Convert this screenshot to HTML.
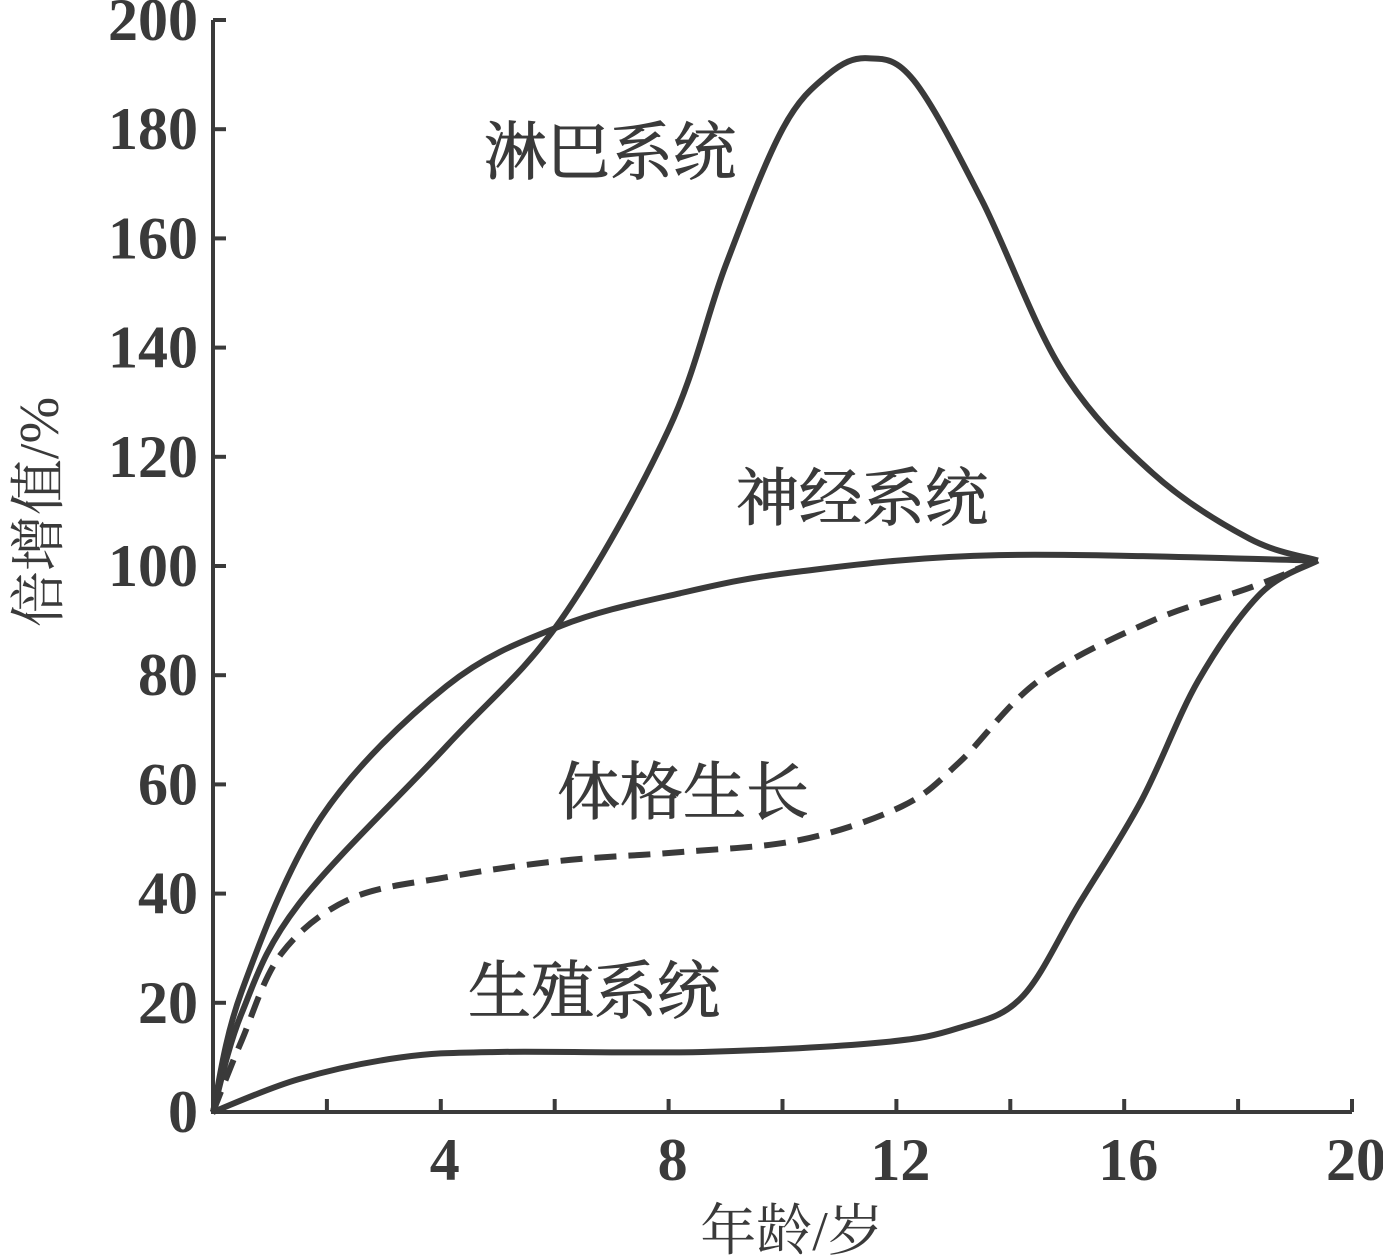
<!DOCTYPE html>
<html><head><meta charset="utf-8">
<style>
html,body{margin:0;padding:0;background:#fff;}
svg{display:block;}
.num{font-family:"Liberation Serif",serif;font-weight:bold;font-size:60px;fill:#3a3a3a;}
.cn{font-family:"Liberation Serif","Noto Serif CJK SC",serif;font-size:56px;fill:#3a3a3a;}
.lab{font-family:"Noto Serif CJK SC",serif;font-size:63px;fill:#3a3a3a;stroke:#3a3a3a;stroke-width:1;}
</style></head>
<body>
<svg id="chart" width="1383" height="1259" viewBox="0 0 1383 1259" xmlns="http://www.w3.org/2000/svg">
<g id="axes"></g>
<g id="series"></g>
<text class="cn" x="792" y="1250" text-anchor="middle">年龄/岁</text>
<text class="cn" transform="translate(58,512) rotate(-90)" text-anchor="middle">倍增值/%</text>
<text class="lab" x="484" y="174">淋巴系统</text>
<text class="lab" x="736" y="520">神经系统</text>
<text class="lab" x="557" y="814">体格生长</text>
<text class="lab" x="468" y="1013">生殖系统</text>
</svg>
<script>
const yTicks=[0,20,40,60,80,100,120,140,160,180,200];
const xTicks=[2,4,6,8,10,12,14,16,18,20];
const xLabels=[4,8,12,16,20];
const lymphX=[0,0.5,1.5,4.1,6.1,8,9,10,10.8,11.5,12.3,13.5,14.9,16.5,18.2,19.4];
const lymphY=[0,18,38,67,90,125,155,180,190,193,189,167,136,117,105,101];
const neuralX=[0,0.5,1.9,4.1,6.1,8.2,10.3,13.8,19.4];
const neuralY=[0,22,54,78,89,95,99,102,101];
const bodyX=[0,0.5,1.2,2.4,4.1,6.1,8.2,10.3,12.1,13.1,14.5,16.5,18.2,19.4];
const bodyY=[0,13,29,39,43,46,47.6,49.8,56,64,79,90,96,101];
const reproX=[0,1.5,3.3,5,8.6,11.7,13.1,14.2,15.2,16.3,17.3,18.4,19.4];
const reproY=[0,6,10,11,11,12.7,15.4,21,38,57,79,95,101];
const NS="http://www.w3.org/2000/svg";
const X=v=>213+v*(1352-213)/20;
const Y=v=>1112-v*(1112-20)/200;
const C="#3a3a3a";
function mk(tag,attrs,parent){const e=document.createElementNS(NS,tag);for(const k in attrs)e.setAttribute(k,attrs[k]);parent.appendChild(e);return e;}
const ax=document.getElementById('axes');
let l=mk('line',{x1:X(0),y1:Y(0),x2:X(0),y2:Y(200),stroke:C,'stroke-width':4},ax);


l=mk('line',{x1:X(0)-2,y1:Y(0),x2:X(20),y2:Y(0),stroke:C,'stroke-width':4},ax);


yTicks.forEach(v=>{
 const t=mk('line',{x1:X(0),y1:Y(v),x2:X(0)+13,y2:Y(v),stroke:C,'stroke-width':4},ax);
 
 
 const tx=mk('text',{x:198,y:Y(v)+20,'text-anchor':'end',class:'num'},ax);
 tx.textContent=v;
 
 
});
xTicks.forEach(v=>{
 const t=mk('line',{x1:X(v),y1:Y(0),x2:X(v),y2:Y(0)-13,stroke:C,'stroke-width':4},ax);
 
 
});
xLabels.forEach(v=>{
 const tx=mk('text',{x:X(v)+4,y:1180,'text-anchor':'middle',class:'num'},ax);
 tx.textContent=v;
 
 
});
function path(xs,ys){
 const p=xs.map((x,i)=>[X(x),Y(ys[i])]);
 let d=`M${p[0][0]},${p[0][1]}`;
 for(let i=0;i<p.length-1;i++){
  const p0=p[Math.max(0,i-1)],p1=p[i],p2=p[i+1],p3=p[Math.min(p.length-1,i+2)];
  const c1=[p1[0]+(p2[0]-p0[0])/6,p1[1]+(p2[1]-p0[1])/6];
  const c2=[p2[0]-(p3[0]-p1[0])/6,p2[1]-(p3[1]-p1[1])/6];
  d+=` C${c1[0]},${c1[1]} ${c2[0]},${c2[1]} ${p2[0]},${p2[1]}`;
 }
 return d;
}
const sg=document.getElementById('series');
let s=mk('path',{d:path(lymphX,lymphY),fill:'none',stroke:C,'stroke-width':6,'stroke-linejoin':'round'},sg);


s=mk('path',{d:path(neuralX,neuralY),fill:'none',stroke:C,'stroke-width':6},sg);


s=mk('path',{d:path(bodyX,bodyY),fill:'none',stroke:C,'stroke-width':6,'stroke-dasharray':'22 12'},sg);


s=mk('path',{d:path(reproX,reproY),fill:'none',stroke:C,'stroke-width':6},sg);


</script>
</body></html>
